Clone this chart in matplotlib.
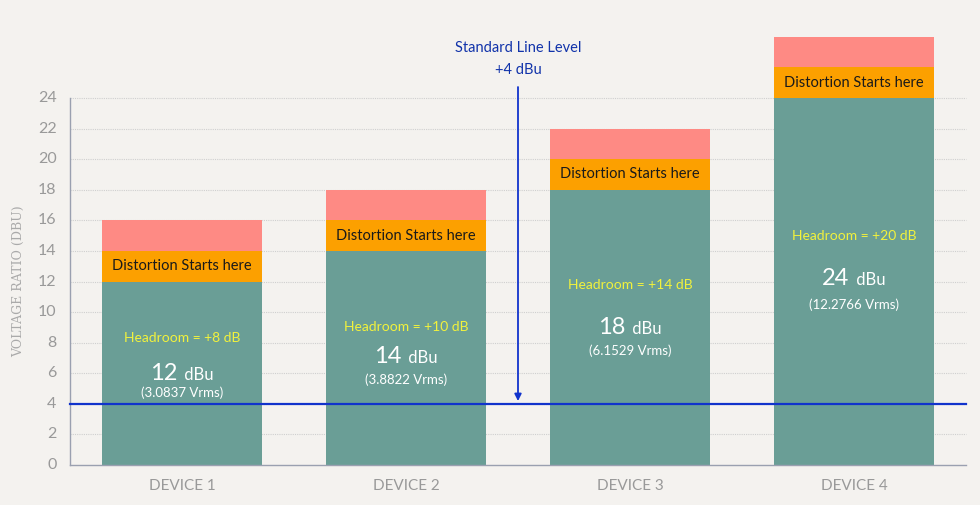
import matplotlib
matplotlib.use("Agg")
import matplotlib.pyplot as plt

devices = ["DEVICE 1", "DEVICE 2", "DEVICE 3", "DEVICE 4"]
clean = [12, 14, 18, 24]
distortion = [2, 2, 2, 2]
clip = [2, 2, 2, 2]
headroom = ["+8 dB", "+10 dB", "+14 dB", "+20 dB"]
vrms = ["3.0837", "3.8822", "6.1529", "12.2766"]
yticks = list(range(0, 25, 2))
line_level = 4

head_y = [8.3, 9.0, 11.8, 15.0]
num_y = [6.0, 7.1, 9.0, 12.2]
vr_y = [4.7, 5.6, 7.5, 10.5]

plt.rcParams["font.family"] = "Lato"
fig = plt.figure(figsize=(9.8, 5.05), dpi=100)
fig.patch.set_facecolor("#f4f2ef")
ax = fig.add_axes([0, 0, 1, 1])
ax.set_facecolor("#f4f2ef")
ax.set_xlim(-0.8125, 3.5625)
ax.set_ylim(-2.616, 30.41)

x = range(len(devices))
w = 0.714
ax.bar(x, clean, w, color="#6a9e96", zorder=2)
ax.bar(x, distortion, w, bottom=clean, color="#fca000", zorder=2)
bot2 = [c + d for c, d in zip(clean, distortion)]
ax.bar(x, clip, w, bottom=bot2, color="#fe8a84", zorder=2)

for i in x:
    ax.text(i, clean[i] + distortion[i] / 2, "Distortion Starts here", ha="center", va="center", fontsize=10.5, color="#1a1a1a", zorder=3)
    ax.text(i, head_y[i], f"Headroom = {headroom[i]}", ha="center", va="center", fontsize=10, color="#f2f23c", zorder=3)
    ax.text(i - 0.02, num_y[i], f"{clean[i]}", ha="right", va="center", fontsize=17, color="white", zorder=3)
    ax.text(i - 0.01, num_y[i] - 0.1, " dBu", ha="left", va="center", fontsize=12, color="white", zorder=3)
    ax.text(i, vr_y[i], f"({vrms[i]} Vrms)", ha="center", va="center", fontsize=9.5, color="white", zorder=3)

for t in yticks:
    if t > 0:
        ax.plot([-0.5, 3.5], [t, t], color="#cfcfcf", lw=0.8, ls=(0, (1, 1)), zorder=1)
    ax.text(-0.56, t, str(t), ha="right", va="center", fontsize=11.5, color="#999999")

ax.plot([-0.5, -0.5], [0, 24], color="#9aa0b0", lw=1, zorder=1)
ax.plot([-0.5, 3.5], [0, 0], color="#9aa0b0", lw=1, zorder=4)
ax.plot([-0.5, 3.5], [line_level, line_level], color="#1133cc", lw=1.6, zorder=4)

for i in x:
    ax.text(i, -1.4, devices[i], ha="center", va="center", fontsize=11, color="#999999")

ax.annotate("", xy=(1.5, line_level), xytext=(1.5, 24.9),
            arrowprops=dict(arrowstyle="-|>", color="#1133cc", lw=1.3), zorder=5)
ax.text(1.5, 27.3, "Standard Line Level", ha="center", va="center", fontsize=10.5, color="#1133aa")
ax.text(1.5, 25.8, "+4 dBu", ha="center", va="center", fontsize=10.5, color="#1133aa")

ax.text(-0.73, 12, "VOLTAGE RATIO (DBU)", rotation=90, ha="center", va="center",
        fontsize=9, color="#aaaaaa", family="DejaVu Serif")
ax.axis("off")
fig.savefig("out.png", dpi=100, facecolor=fig.get_facecolor())
